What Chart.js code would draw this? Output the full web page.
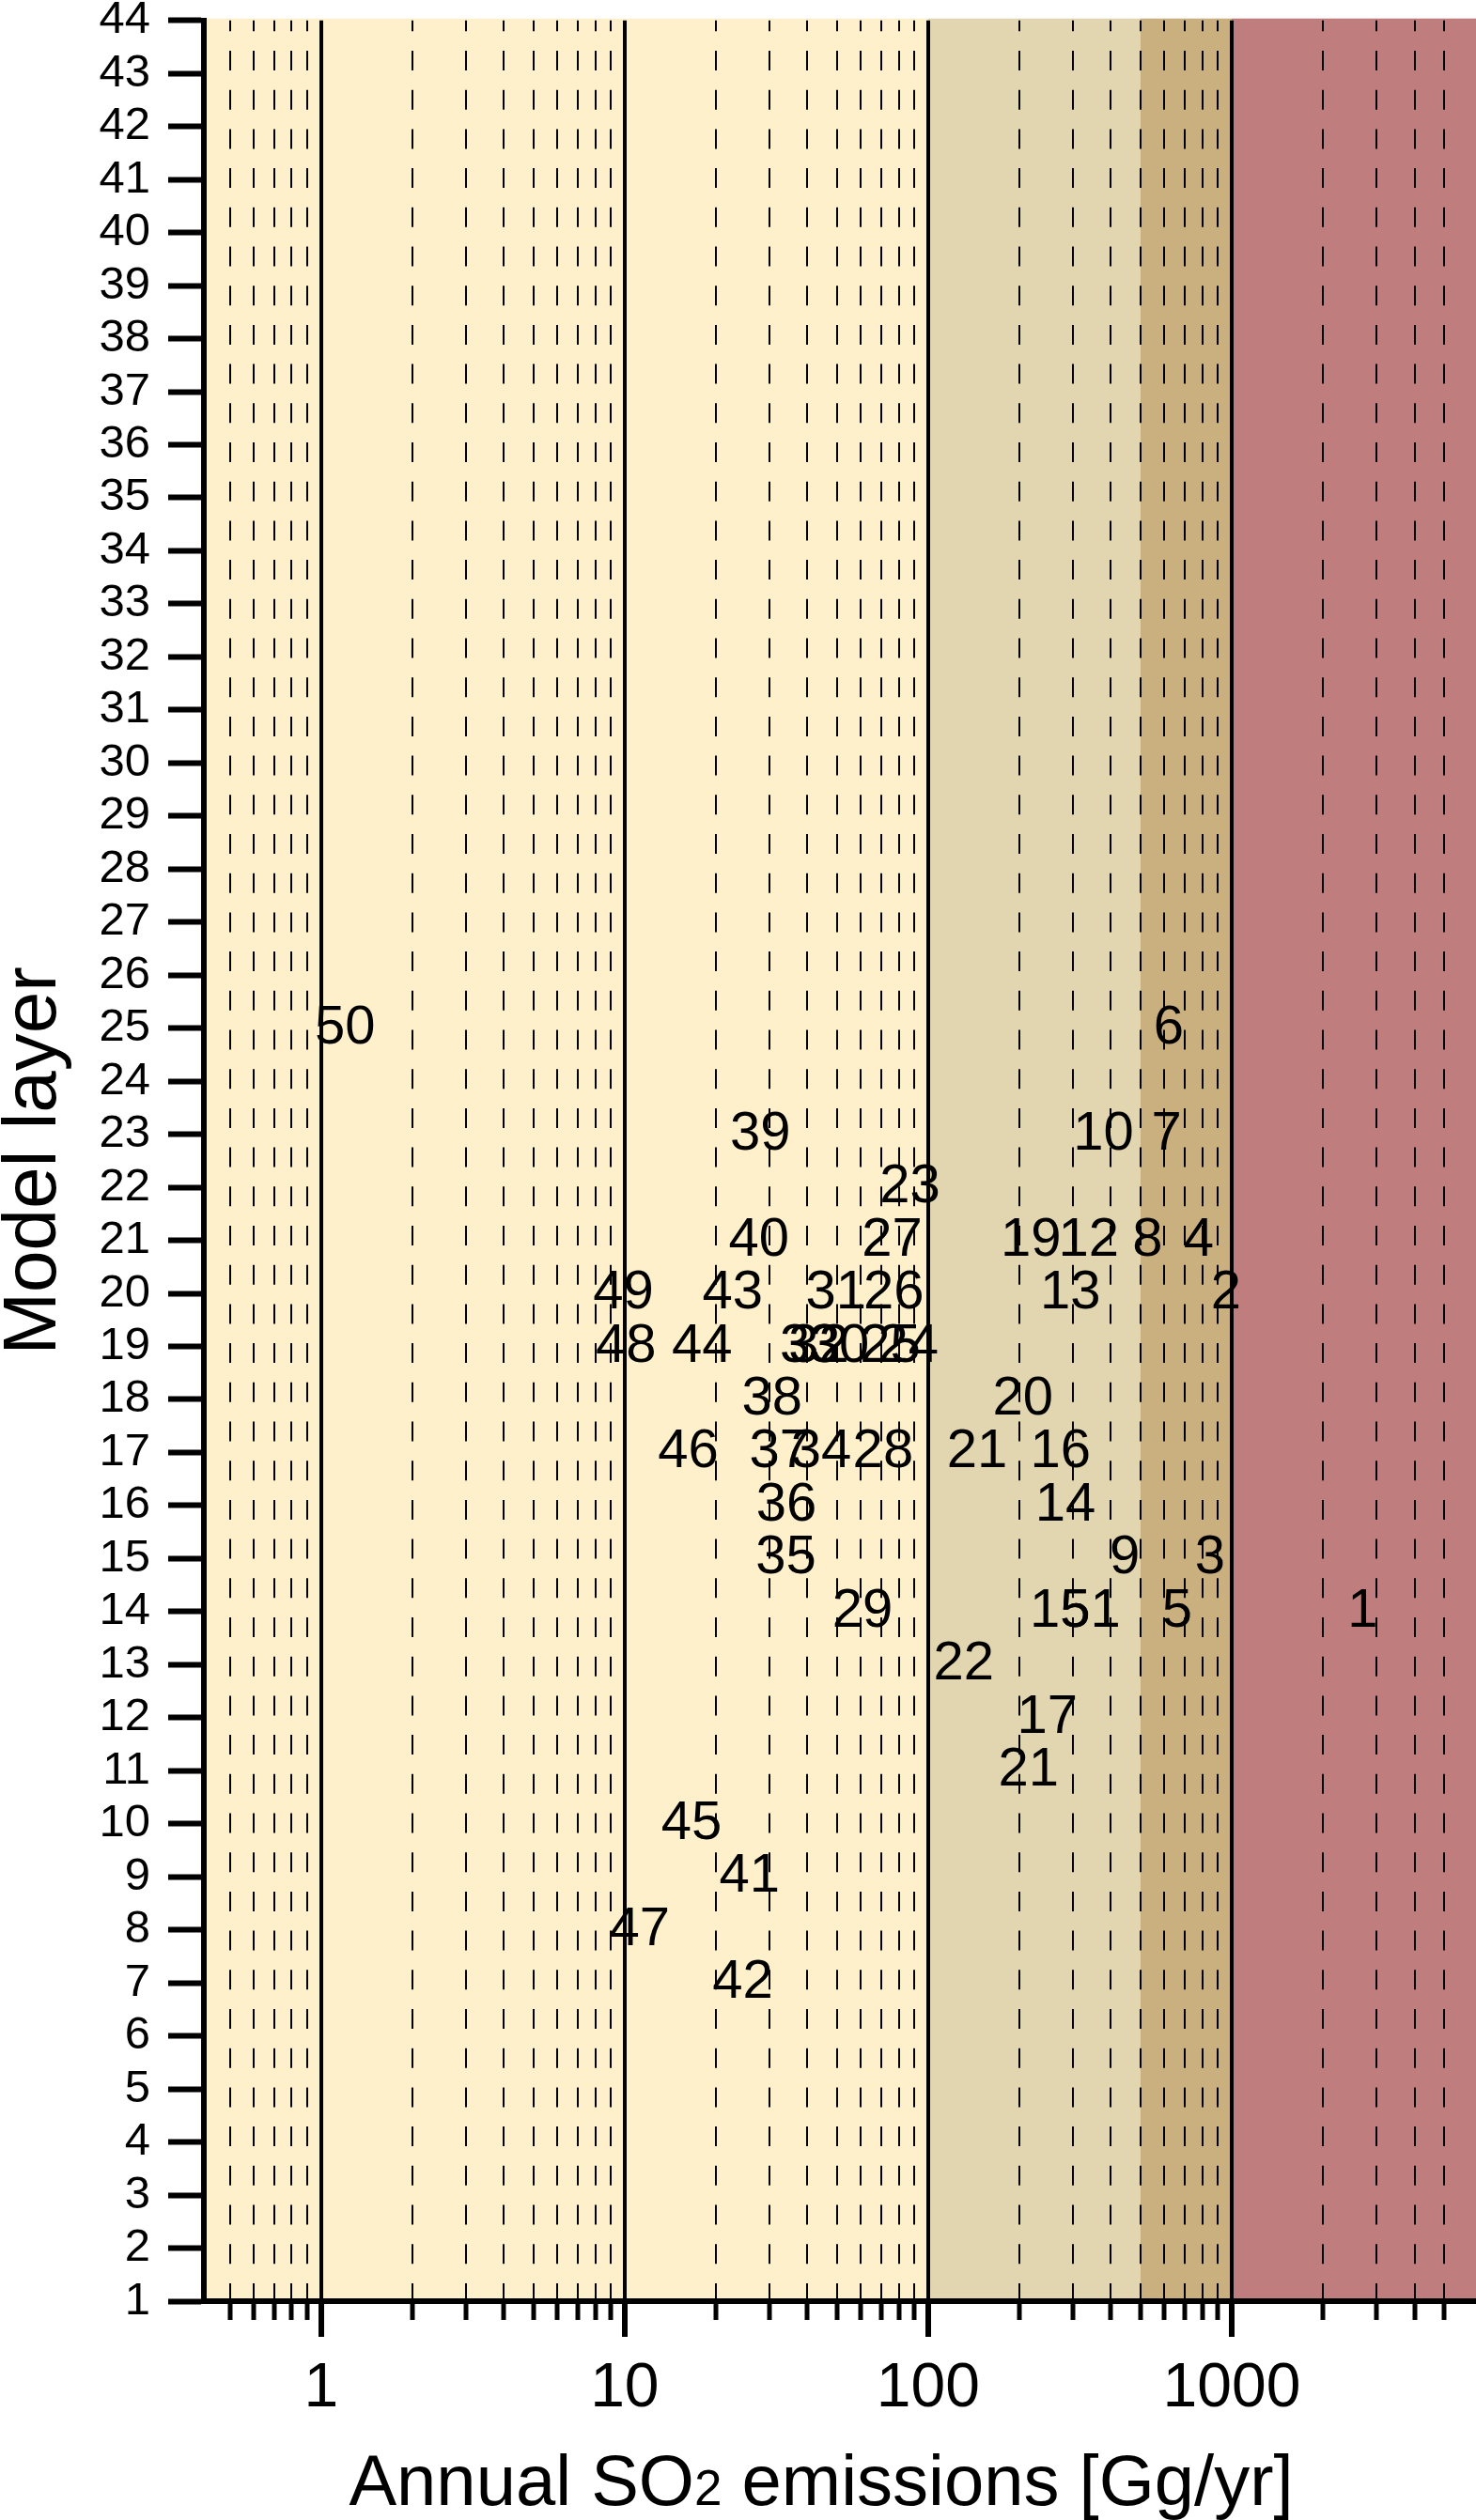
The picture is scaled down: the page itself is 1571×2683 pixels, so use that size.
<!DOCTYPE html>
<html>
<head>
<meta charset="utf-8">
<title>Annual SO2 emissions by model layer</title>
<script src="https://cdn.jsdelivr.net/npm/chart.js@4.4.1/dist/chart.umd.min.js"></script>
<style>
    html, body { margin: 0; padding: 0; background: #ffffff; }
    canvas { display: block; }
</style>
</head>
<body>
<canvas id="layerChart" width="1571" height="2683"></canvas>
<script>
// source numbers, their annual SO2 emissions [Gg/yr] and injection layer
const sourceIds = ["50", "6", "39", "10", "7", "23", "40", "27", "19", "12", "8", "4",
    "49", "43", "31", "26", "13", "2", "48", "44", "33", "32", "30", "25", "24",
    "38", "20", "46", "37", "34", "28", "21", "16", "36", "14", "35", "9", "3",
    "29", "15", "51", "5", "1", "22", "17", "21", "45", "41", "47", "42"];
const emissions = [1.2, 620, 28, 378, 610, 87, 27.7, 76, 218, 338, 528, 778,
    9.9, 22.7, 49.7, 77, 294, 958, 10.1, 18, 40.8, 43.6, 50.8, 75, 86,
    30.6, 205, 16.2, 32.4, 44.4, 71, 145, 273, 34.1, 283, 34, 444, 848,
    60.8, 272, 342, 661, 2700, 131, 247, 214, 16.6, 25.8, 11.2, 24.5];
const layers = [25, 25, 23, 23, 23, 22, 21, 21, 21, 21, 21, 21,
    20, 20, 20, 20, 20, 20, 19, 19, 19, 19, 19, 19, 19,
    18, 18, 17, 17, 17, 17, 17, 17, 16, 16, 15, 15, 15,
    14, 14, 14, 14, 14, 13, 12, 11, 10, 9, 8, 7];

// log axis ticks; only the decades carry a label
const xTickValues = [0.5, 0.6, 0.7, 0.8, 0.9,
    1, 2, 3, 4, 5, 6, 7, 8, 9,
    10, 20, 30, 40, 50, 60, 70, 80, 90,
    100, 200, 300, 400, 500, 600, 700, 800, 900,
    1000, 2000, 3000, 4000, 5000];
const xLabelValues = [1, 10, 100, 1000];
const xMin = 0.411;
const xMax = 6378;

// emission classes shaded behind the plot
const bandEdges = [xMin, 100, 500, 1000, xMax];
const bandColors = ["#fff0cc", "#e2d6b0", "#cbb07f", "#bf7d7d"];

const fontFamily = "'Liberation Sans', Arial, Helvetica, sans-serif";

function isDecade(v) {
    const l = Math.log10(v);
    return Math.abs(l - Math.round(l)) < 1e-9;
}

function isMinorTick(ctx) {
    return ctx.tick !== undefined && !isDecade(ctx.tick.value);
}

// shaded emission classes
const bandPlugin = {
    id: "bands",
    beforeDraw(chart) {
        const { ctx, chartArea, scales } = chart;
        ctx.save();
        for (let i = 0; i < bandColors.length; i++) {
            const x1 = scales.x.getPixelForValue(bandEdges[i]);
            const x2 = scales.x.getPixelForValue(bandEdges[i + 1]);
            ctx.fillStyle = bandColors[i];
            ctx.fillRect(x1, chartArea.top - 2, x2 - x1, chartArea.bottom - chartArea.top + 2);
        }
        ctx.restore();
    }
};

// each source is drawn as its number
const numberPlugin = {
    id: "sourceNumbers",
    afterDatasetsDraw(chart) {
        const ctx = chart.ctx;
        const meta = chart.getDatasetMeta(0);
        ctx.save();
        ctx.font = "58px " + fontFamily;
        ctx.fillStyle = "#000";
        ctx.textAlign = "center";
        ctx.textBaseline = "middle";
        meta.data.forEach((pt, i) => {
            ctx.fillText(sourceIds[i], pt.x, pt.y);
        });
        ctx.restore();
    }
};

// x axis title with a smaller "2" in SO2
const xTitlePlugin = {
    id: "xTitle",
    afterDraw(chart) {
        const ctx = chart.ctx;
        const area = chart.chartArea;
        const parts = [
            { text: "Annual SO", size: 76 },
            { text: "2", size: 53 },
            { text: " emissions [Gg/yr]", size: 76 }
        ];
        ctx.save();
        ctx.fillStyle = "#000";
        ctx.textBaseline = "alphabetic";
        ctx.textAlign = "left";
        let total = 0;
        parts.forEach(p => {
            ctx.font = p.size + "px " + fontFamily;
            p.width = ctx.measureText(p.text).width;
            total += p.width;
        });
        let x = (area.left + area.right) / 2 - 20 - total / 2;
        const y = chart.height - 16;
        parts.forEach(p => {
            ctx.font = p.size + "px " + fontFamily;
            ctx.fillText(p.text, x, y);
            x += p.width;
        });
        ctx.restore();
    }
};

document.addEventListener("DOMContentLoaded", function () {
    Chart.defaults.font.family = fontFamily;
    Chart.defaults.color = "#000";

    const points = emissions.map((v, i) => ({ x: v, y: layers[i] }));

    new Chart(document.getElementById("layerChart"), {
        type: "scatter",
        data: {
            datasets: [{
                label: "sources",
                data: points,
                pointRadius: 0,
                pointHoverRadius: 0
            }]
        },
        options: {
            responsive: false,
            animation: false,
            events: [],
            layout: { padding: 0 },
            plugins: {
                legend: { display: false },
                tooltip: { enabled: false }
            },
            scales: {
                x: {
                    type: "logarithmic",
                    min: xMin,
                    max: xMax,
                    afterBuildTicks: axis => {
                        axis.ticks = xTickValues.map(v => ({ value: v, major: false }));
                    },
                    afterFit: axis => {
                        axis.height = 233;
                        axis.paddingLeft = 0;
                        axis.paddingRight = 0;
                    },
                    ticks: {
                        autoSkip: false,
                        maxRotation: 0,
                        padding: 16,
                        font: { size: 66, lineHeight: 1.2 },
                        callback: value => xLabelValues.includes(value) ? String(value) : ""
                    },
                    grid: {
                        color: "#000",
                        lineWidth: ctx => isMinorTick(ctx) ? 2 : 4,
                        tickLength: 38,
                        tickColor: "#000",
                        tickWidth: ctx => isMinorTick(ctx) ? 5 : 6,
                        tickBorderDash: ctx => isMinorTick(ctx) ? [17, 100] : []
                    },
                    border: {
                        color: "#000",
                        width: 6,
                        dash: ctx => isMinorTick(ctx) ? [21, 20.7] : [],
                        dashOffset: 9.4
                    }
                },
                y: {
                    type: "linear",
                    min: 1,
                    max: 44,
                    afterFit: axis => {
                        axis.width = 217;
                        axis.paddingTop = 21.7;
                        axis.paddingBottom = 0;
                    },
                    ticks: {
                        stepSize: 1,
                        autoSkip: false,
                        padding: 19,
                        font: { size: 49, lineHeight: 0.9 }
                    },
                    grid: {
                        drawOnChartArea: false,
                        tickLength: 38,
                        tickWidth: 6,
                        tickColor: "#000"
                    },
                    border: { color: "#000", width: 6 },
                    title: {
                        display: true,
                        text: "Model layer",
                        color: "#000",
                        font: { size: 80, lineHeight: 0.8 },
                        padding: { top: 5, bottom: 0 }
                    }
                }
            }
        },
        plugins: [bandPlugin, numberPlugin, xTitlePlugin]
    });
});
</script>
</body>
</html>
